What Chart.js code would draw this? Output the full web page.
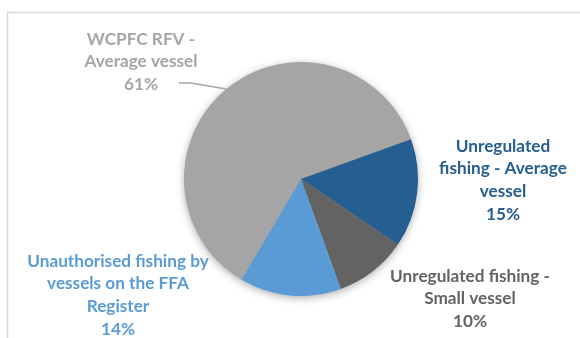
<!DOCTYPE html>
<html>
<head>
<meta charset="utf-8">
<script src="https://cdn.jsdelivr.net/npm/chart.js@4.4.1/dist/chart.umd.min.js"></script>
<style>
  html, body { margin: 0; padding: 0; background: #fff; }
</style>
</head>
<body>
<canvas id="myChart" width="580" height="338"></canvas>
<script>
// chart data
var categories = ['WCPFC RFV - Average vessel', 'Unregulated fishing - Average vessel', 'Unregulated fishing - Small vessel', 'Unauthorised fishing by vessels on the FFA Register'];
var shares = [61, 15, 10, 14];
var labelLines = [
    ['WCPFC RFV -', 'Average vessel'],
    ['Unregulated', 'fishing - Average', 'vessel'],
    ['Unregulated fishing -', 'Small vessel'],
    ['Unauthorised fishing by', 'vessels on the FFA', 'Register']
];

var sliceColors = ['#A5A5A5', '#255E91', '#636363', '#5B9BD5'];
var textColors = ['#A5A5A5', '#255E91', '#636363', '#5B9BD5'];
// where each label block sits (centre x, first line y)
var labelPos = [[141, 39], [503, 146], [470, 276], [118, 261]];
var lineHeight = 22.7;

var frame = {
    id: 'frame',
    beforeDraw: function (chart) {
        var ctx = chart.ctx;
        ctx.save();
        ctx.strokeStyle = '#D9D9D9';
        ctx.lineWidth = 1.5;
        ctx.beginPath();
        ctx.moveTo(7.5, 400);
        ctx.lineTo(7.5, 12.5);
        ctx.lineTo(600, 12.5);
        ctx.stroke();
        ctx.restore();
    }
};

var pieShadow = {
    id: 'pieShadow',
    beforeDatasetsDraw: function (chart) {
        var arc = chart.getDatasetMeta(0).data[0];
        var ctx = chart.ctx;
        ctx.save();
        ctx.shadowColor = 'rgba(0,0,0,0.35)';
        ctx.shadowBlur = 9;
        ctx.shadowOffsetY = 2;
        ctx.fillStyle = '#A5A5A5';
        ctx.beginPath();
        ctx.arc(arc.x, arc.y, arc.outerRadius - 0.5, 0, Math.PI * 2);
        ctx.fill();
        ctx.restore();
    }
};

var sliceLabels = {
    id: 'sliceLabels',
    afterDatasetsDraw: function (chart) {
        var ctx = chart.ctx;
        var arcs = chart.getDatasetMeta(0).data;
        ctx.save();
        ctx.font = 'bold 17.2px Lato';
        ctx.textAlign = 'center';
        ctx.textBaseline = 'middle';

        for (var i = 0; i < arcs.length; i++) {
            var lines = labelLines[i].concat([shares[i] + '%']);
            ctx.fillStyle = textColors[i];
            for (var j = 0; j < lines.length; j++) {
                ctx.fillText(lines[j], labelPos[i][0], labelPos[i][1] + j * lineHeight);
            }
        }

        // leader line for the big slice
        var a = arcs[0];
        var mid = (a.startAngle + a.endAngle) / 2;
        var ex = a.x + a.outerRadius * Math.cos(mid);
        var ey = a.y + a.outerRadius * Math.sin(mid);
        ctx.strokeStyle = '#A6A6A6';
        ctx.lineWidth = 1.5;
        ctx.beginPath();
        ctx.moveTo(179, 83);
        ctx.lineTo(191, 83);
        ctx.lineTo(ex, ey);
        ctx.stroke();
        ctx.restore();
    }
};

var ctx = document.getElementById('myChart').getContext('2d');
var myChart = new Chart(ctx, {
    type: 'pie',
    data: {
        labels: categories,
        datasets: [{
            data: shares,
            backgroundColor: sliceColors,
            borderWidth: 0
        }]
    },
    options: {
        responsive: false,
        animation: false,
        rotation: 210.5,
        layout: { padding: { left: 184, right: 162, top: 62, bottom: 42 } },
        plugins: {
            legend: { display: false },
            tooltip: { enabled: false }
        }
    },
    plugins: [frame, pieShadow, sliceLabels]
});
</script>
</body>
</html>
